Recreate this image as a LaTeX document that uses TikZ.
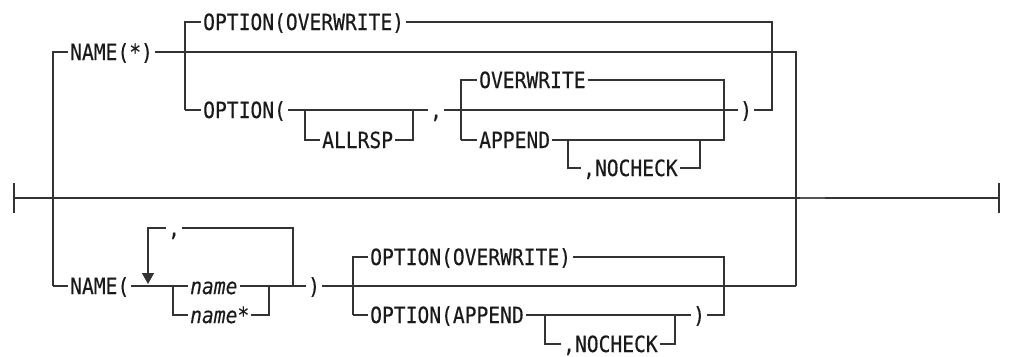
\documentclass[tikz,border=0pt]{standalone}
\usepackage{fontspec}
\newfontfamily\diagfont[FakeStretch=0.88,FakeBold=0.35]{DejaVu Sans Mono}
\usetikzlibrary{arrows.meta}
\definecolor{linec}{HTML}{333333}
\definecolor{textc}{HTML}{1A1A1A}
\definecolor{glitch}{HTML}{555555}
\tikzset{
  rr/.style={draw=linec, line width=1.4pt},
  kw/.style={anchor=west, inner xsep=2pt, inner ysep=0pt, text height=16pt, text depth=0pt,
             font=\diagfont\fontsize{22.3}{22}\selectfont, text=textc},
  var/.style={kw, font=\diagfont\itshape\fontsize{22.3}{22}\selectfont},
}
\begin{document}
\begin{tikzpicture}[x=1pt,y=-1pt]
\useasboundingbox (0,0) rectangle (1009,356);
% text nodes
\node[kw] (n1) at (68,52) {NAME(*)};
\node[kw] (o1) at (201,22) {OPTION(OVERWRITE)};
\node[kw] (o2) at (201,110) {OPTION(};
\node[kw] (al) at (320,140) {ALLRSP};
\node[kw] (c1) at (428,110) {,};
\node[kw] (ow) at (477,80) {OVERWRITE};
\node[kw] (ap) at (477,140) {APPEND};
\node[kw] (nc1) at (581,168) {,NOCHECK};
\node[kw] (rp1) at (738,110) {)};
\node[kw] (n2) at (68,286) {NAME(};
\node[kw] (c2) at (166,228) {,};
\node[var] (nm1) at (188,286) {name};
\node[var] (nm2) at (188,315) {name*};
\node[kw] (rp2) at (306,286) {)};
\node[kw] (ob1) at (368,257) {OPTION(OVERWRITE)};
\node[kw] (oa) at (368,315) {OPTION(APPEND};
\node[kw] (nc2) at (561,344) {,NOCHECK};
\node[kw] (rp3) at (691,315) {)};
% end points
\coordinate (L) at (14,198);
\coordinate (R) at (999,198);
\draw[rr] (14,183) -- (14,213);
\draw[rr] (999,183) -- (999,213);
\draw[rr] (L) -- (R);
\draw[glitch, line width=2.2pt] (800,198.3) -- (825,198.3);
% main verticals
\draw[rr] (53,286) -- (53,52) -- (n1.west);
\draw[rr] (n1.east) -- (796,52) -- (796,286);
% top options
\draw[rr] (185,110) -- (185,22) -- (o1.west);
\draw[rr] (o1.east) -- (772,22) -- (772,110) -- (rp1.east);
\draw[rr] (185,110) -- (o2.west);
\draw[rr] (o2.east) -- (c1.west);
\draw[rr] (305,110) -- (305,140) -- (al.west);
\draw[rr] (al.east) -- (413,140) -- (413,110);
\draw[rr] (c1.east) -- (rp1.west);
\draw[rr] (461,140) -- (461,80) -- (ow.west);
\draw[rr] (ow.east) -- (724,80) -- (724,140) -- (ap.east);
\draw[rr] (461,140) -- (ap.west);
\draw[rr] (568,140) -- (568,168) -- (nc1.west);
\draw[rr] (nc1.east) -- (700,168) -- (700,140);
% bottom
\draw[rr] (53,286) -- (n2.west);
\draw[rr] (n2.east) -- (nm1.west);
\draw[rr] (nm1.east) -- (rp2.west);
\draw[rr] (173,286) -- (173,315) -- (nm2.west);
\draw[rr] (nm2.east) -- (269,315) -- (269,286);
\draw[rr] (293,286) -- (293,228) -- (c2.east);
\draw[rr, -{Triangle[width=12pt,length=11pt]}] (c2.west) -- (148,228) -- (148,284);
\draw[rr] (rp2.east) -- (796,286);
\draw[rr] (353,315) -- (353,257) -- (ob1.west);
\draw[rr] (ob1.east) -- (724,257) -- (724,315) -- (rp3.east);
\draw[rr] (353,315) -- (oa.west);
\draw[rr] (oa.east) -- (rp3.west);
\draw[rr] (545,315) -- (545,344) -- (nc2.west);
\draw[rr] (nc2.east) -- (675,344) -- (675,315);
\end{tikzpicture}
\end{document}
